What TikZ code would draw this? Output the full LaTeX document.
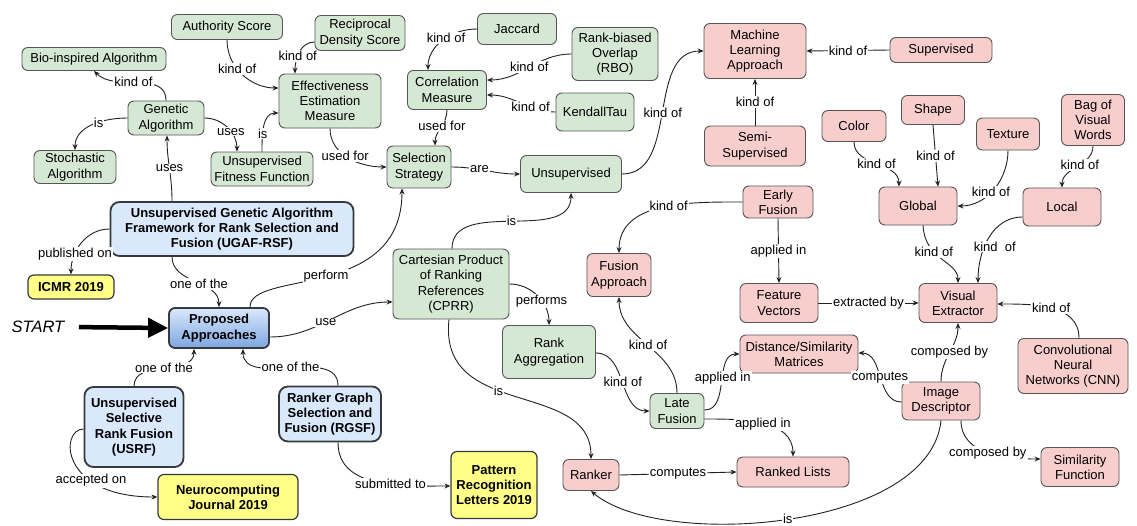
\documentclass[tikz,border=0pt]{standalone}
\usepackage{fontspec}
\setmainfont{Liberation Sans}
\usetikzlibrary{arrows.meta}

\definecolor{gfill}{HTML}{D5E8D4}
\definecolor{pfill}{HTML}{F8CECC}
\definecolor{bfill}{HTML}{DAE8FC}
\definecolor{bdark}{HTML}{7EA6E0}
\definecolor{yfill}{HTML}{FFFF88}
\definecolor{bline}{HTML}{36393D}
\definecolor{boxline}{HTML}{555555}
\definecolor{edgeline}{HTML}{222222}

\begin{document}
\begin{tikzpicture}[x=1pt, y=1pt,
        every node/.style={font=\fontsize{13}{15.3}\selectfont, align=center},
        box/.style={draw=boxline, line width=0.9pt, rounded corners=6pt, inner sep=2pt},
        gnode/.style={box, fill=gfill},
        pnode/.style={box, fill=pfill},
        bnode/.style={box, draw=bline, line width=1.8pt, fill=bfill, rounded corners=9pt,
            font=\fontsize{13}{15.3}\selectfont\bfseries},
        ynode/.style={box, draw=bline, line width=1.2pt, fill=yfill,
            font=\fontsize{13}{15.3}\selectfont\bfseries},
        wh/.style 2 args={minimum width=#1pt, minimum height=#2pt},
        link/.style={draw=edgeline, line width=0.9pt, -{Stealth[length=6pt,width=5pt]}},
        lbl/.style={fill=white, inner sep=1pt}]
        \fill[white] (0,0) rectangle (1137,-525);
        \useasboundingbox (0,0) rectangle (1137,-525);

        % Nodes (green)
        \node[gnode, wh={111}{25}] (AS) at (227,-27) {Authority Score};
        \node[gnode, wh={90}{35}] (RDS) at (360,-33) {Reciprocal\\Density Score};
        \node[gnode, wh={144}{23}] (BIO) at (94,-59) {Bio-inspired Algorithm};
        \node[gnode, wh={76}{34}] (GA) at (166,-118) {Genetic\\Algorithm};
        \node[gnode, wh={82}{33}] (STO) at (75,-167) {Stochastic\\Algorithm};
        \node[gnode, wh={102}{34}] (UFF) at (262,-169) {Unsupervised\\Fitness Function};
        \node[gnode, wh={102}{54}] (EEM) at (330,-101) {Effectiveness\\Estimation\\Measure};
        \node[gnode, wh={79}{31}] (JAC) at (517,-29) {Jaccard};
        \node[gnode, wh={86}{53}] (RBO) at (615,-54) {Rank-biased\\Overlap\\(RBO)};
        \node[gnode, wh={79}{39}] (CM) at (447,-90) {Correlation\\Measure};
        \node[gnode, wh={78}{38}] (KT) at (595,-112) {KendallTau};
        \node[gnode, wh={64}{42}] (SS) at (419,-167) {Selection\\Strategy};
        \node[gnode, wh={101}{37}] (UNS) at (571,-174) {Unsupervised};
        \node[gnode, wh={116}{70}] (CPRR) at (451,-284) {Cartesian Product\\of Ranking\\References\\(CPRR)};
        \node[gnode, wh={93}{53}] (RA) at (549,-352) {Rank\\Aggregation};
        \node[gnode, wh={54}{35}] (LF) at (677,-411) {Late\\Fusion};

        % Nodes (pink)
        \node[pnode, wh={102}{55}] (MLA) at (755,-51) {Machine\\Learning\\Approach};
        \node[pnode, wh={102}{25}] (SUP) at (941,-50) {Supervised};
        \node[pnode, wh={101}{40}] (SEMI) at (755,-146) {Semi-\\Supervised};
        \node[pnode, wh={64}{31}] (COL) at (854,-126) {Color};
        \node[pnode, wh={63}{29}] (SHA) at (933,-110) {Shape};
        \node[pnode, wh={63}{32}] (TEX) at (1008,-134) {Texture};
        \node[pnode, wh={63}{51}] (BOV) at (1093,-120) {Bag of\\Visual\\Words};
        \node[pnode, wh={78}{38}] (GLO) at (918,-206) {Global};
        \node[pnode, wh={78}{38}] (LOC) at (1062,-207) {Local};
        \node[pnode, wh={70}{32}] (EF) at (778,-202) {Early\\Fusion};
        \node[pnode, wh={64}{43}] (FA) at (619,-275) {Fusion\\Approach};
        \node[pnode, wh={78}{39}] (FV) at (779,-303) {Feature\\Vectors};
        \node[pnode, wh={78}{39}] (VE) at (958,-303) {Visual\\Extractor};
        \node[pnode, wh={110}{55}] (CNN) at (1073,-366) {Convolutional\\Neural\\Networks (CNN)};
        \node[pnode, wh={118}{38}] (DSM) at (799,-354) {Distance/Similarity\\Matrices};
        \node[pnode, wh={78}{38}] (ID) at (941,-401) {Image\\Descriptor};
        \node[pnode, wh={78}{39}] (SF) at (1080,-467) {Similarity\\Function};
        \node[pnode, wh={112}{30}] (RL) at (793,-472) {Ranked Lists};
        \node[pnode, wh={56}{31}] (RK) at (591,-475) {Ranker};

        % Nodes (approaches and venues)
        \node[bnode, wh={243}{54}] (UGAF) at (232,-229) {Unsupervised Genetic Algorithm\\Framework for Rank Selection and\\Fusion (UGAF-RSF)};
        \node[bnode, wh={99}{80}] (USRF) at (134,-427) {Unsupervised\\Selective\\Rank Fusion\\(USRF)};
        \node[bnode, wh={102}{55}] (RGSF) at (330,-414) {Ranker Graph\\Selection and\\Fusion (RGSF)};
        \node[bnode, wh={100}{40}, rounded corners=6pt, top color=bfill, bottom color=bdark] (PA) at (219,-328) {Proposed\\Approaches};
        \node[ynode, wh={86}{24}] (ICMR) at (71,-287) {ICMR 2019};
        \node[ynode, wh={140}{45}] (NEURO) at (228,-497) {Neurocomputing\\Journal 2019};
        \node[ynode, wh={86}{67}] (PRL) at (494,-485) {Pattern\\Recognition\\Letters 2019};
        \node[font=\fontsize{16.5}{18}\selectfont\itshape] (START) at (38,-327) {START};

        % Edges
        \draw[line width=4.5pt, -{Triangle[length=20pt,width=19pt]}, shorten <=11pt] (START.east) -- (PA.west);
        \draw[link] (GA.north) to[out=90, in=-45] node[lbl, pos=0.55] {kind of} (BIO.south);
        \draw[link] (GA.west) to[out=180, in=90] node[lbl, pos=0.4] {is} (STO.north);
        \draw[link] (GA.east) to[out=0, in=90] node[lbl, pos=0.6] {uses} ([xshift=-25pt]UFF.north);
        \draw[link] (UFF.north) to[out=90, in=180] node[lbl, pos=0.35] {is} ([yshift=-12pt]EEM.west);
        \draw[link] (AS.south) to[out=-90, in=180] node[lbl, pos=0.4] {kind of} ([yshift=13pt]EEM.west);
        \draw[link] ([yshift=-9pt]RDS.west) to[out=180, in=90] node[lbl, pos=0.6] {kind of} ([xshift=-35pt]EEM.north);
        \draw[link] (EEM.south) to[out=-90, in=180] node[lbl, pos=0.45] {used for} (SS.west);
        \draw[link] (CM.south) to[out=-90, in=90] node[lbl, pos=0.45] {used for} ([xshift=16pt]SS.north);
        \draw[link] (JAC.west) to[out=180, in=90] node[lbl, pos=0.45] {kind of} ([xshift=-19pt]CM.north);
        \draw[link] (RBO.west) to[out=180, in=0] node[lbl, pos=0.5] {kind of} ([yshift=10pt]CM.east);
        \draw[link] (KT.west) to[out=180, in=0] node[lbl, pos=0.35] {kind of} ([yshift=-5pt]CM.east);
        \draw[link] (SS.east) to[out=0, in=180] node[lbl, pos=0.4] {are} (UNS.west);
        \draw[link] (UNS.east) to[out=0, in=180] node[lbl, pos=0.5] {kind of} (MLA.west);
        \draw[link] (SUP.west) -- node[lbl] {kind of} (MLA.east);
        \draw[link] (SEMI.north) -- node[lbl] {kind of} (MLA.south);
        \draw[link] ([xshift=-60pt]UGAF.north) to[out=90, in=-90] node[lbl, pos=0.5] {uses} ([xshift=1pt]GA.south);
        \draw[link] (UGAF.west) to[out=180, in=90] node[lbl, pos=0.7] {published on} (ICMR.north);
        \draw[link] ([xshift=-60pt]UGAF.south) to[out=-90, in=90] node[lbl, pos=0.55] {one of the} (PA.north);
        \draw[link] ([xshift=31pt]PA.north) to[out=90, in=-90, out looseness=0.5, in looseness=1.5] node[lbl, pos=0.5] {perform} ([xshift=-17pt]SS.south);
        \draw[link] ([yshift=-9pt]PA.east) to[out=0, in=180] node[lbl, pos=0.45] {use} ([yshift=-18pt]CPRR.west);
        \draw[link] (USRF.north) to[out=90, in=-90] node[lbl, pos=0.5] {one of the} ([xshift=-25pt]PA.south);
        \draw[link] ([xshift=8pt]RGSF.north) to[out=90, in=-90] node[lbl, pos=0.5] {one of the} ([xshift=24pt]PA.south);
        \draw[link] ([yshift=-2pt]USRF.west) .. controls +(-24,0) and +(-98,0) .. node[lbl, pos=0.68] {accepted on} (NEURO.west);
        \draw[link] ([xshift=8pt]RGSF.south) to[out=-90, in=180] node[lbl, pos=0.6] {submitted to} ([yshift=-1pt]PRL.west);
        \draw[link] ([xshift=1pt]CPRR.north) to[out=90, in=-90] node[lbl, pos=0.5] {is} (UNS.south);
        \draw[link] (CPRR.east) to[out=0, in=90] node[lbl, pos=0.6] {performs} (RA.north);
        \draw[link] ([xshift=-2pt]CPRR.south) .. controls +(-11,-101) and +(0,80) .. node[lbl, pos=0.42] {is} (RK.north);
        \draw[link] ([yshift=-1pt]RA.east) to[out=0, in=180] node[lbl, pos=0.5] {kind of} (LF.west);
        \draw[link] (LF.north) to[out=90, in=-90] node[lbl, pos=0.5] {kind of} (FA.south);
        \draw[link] (EF.west) to[out=180, in=90] node[lbl, pos=0.45] {kind of} (FA.north);
        \draw[link] (EF.south) -- node[lbl] {applied in} (FV.north);
        \draw[link] (FV.east) -- node[lbl] {extracted by} (VE.west);
        \draw[link] ([yshift=1pt]LF.east) to[out=0, in=180] node[lbl, pos=0.55] {applied in} (DSM.west);
        \draw[link] ([yshift=-8pt]LF.east) to[out=0, in=90] node[lbl, pos=0.5] {applied in} (RL.north);
        \draw[link] (RK.east) -- node[lbl] {computes} (RL.west);
        \draw[link] (ID.south) .. controls +(-11,-110) and +(69,-59) .. node[lbl, pos=0.5] {is} (RK.south);
        \draw[link] ([yshift=-1pt]ID.west) to[out=180, in=0] node[lbl, pos=0.5] {computes} ([yshift=1pt]DSM.east);
        \draw[link] (ID.north) to[out=90, in=-90] node[lbl, pos=0.5] {composed by} (VE.south);
        \draw[link] ([xshift=20pt]ID.south) to[out=-90, in=180] node[lbl, pos=0.5] {composed by} ([yshift=8pt]SF.west);
        \draw[link] ([xshift=6pt]CNN.north) to[out=90, in=0] node[lbl, pos=0.5] {kind of} ([yshift=-1pt]VE.east);
        \draw[link] ([xshift=5pt]GLO.south) .. controls +(2,-35) and +(0,22) .. node[lbl, pos=0.35] {kind of} (VE.north);
        \draw[link] ([yshift=-10pt]LOC.west) to[out=180, in=90] node[lbl, pos=0.6, xshift=10pt] {kind\ \ of} ([xshift=20pt]VE.north);
        \draw[link] (COL.south) to[out=-90, in=90] node[lbl, pos=0.5] {kind of} ([xshift=-19pt]GLO.north);
        \draw[link] (SHA.south) -- node[lbl] {kind of} ([xshift=20pt]GLO.north);
        \draw[link] (TEX.south) to[out=-90, in=0] node[lbl, pos=0.55] {kind of} (GLO.east);
        \draw[link] (BOV.south) to[out=-90, in=90] node[lbl, pos=0.45] {kind of} (LOC.north);
\end{tikzpicture}
\end{document}
